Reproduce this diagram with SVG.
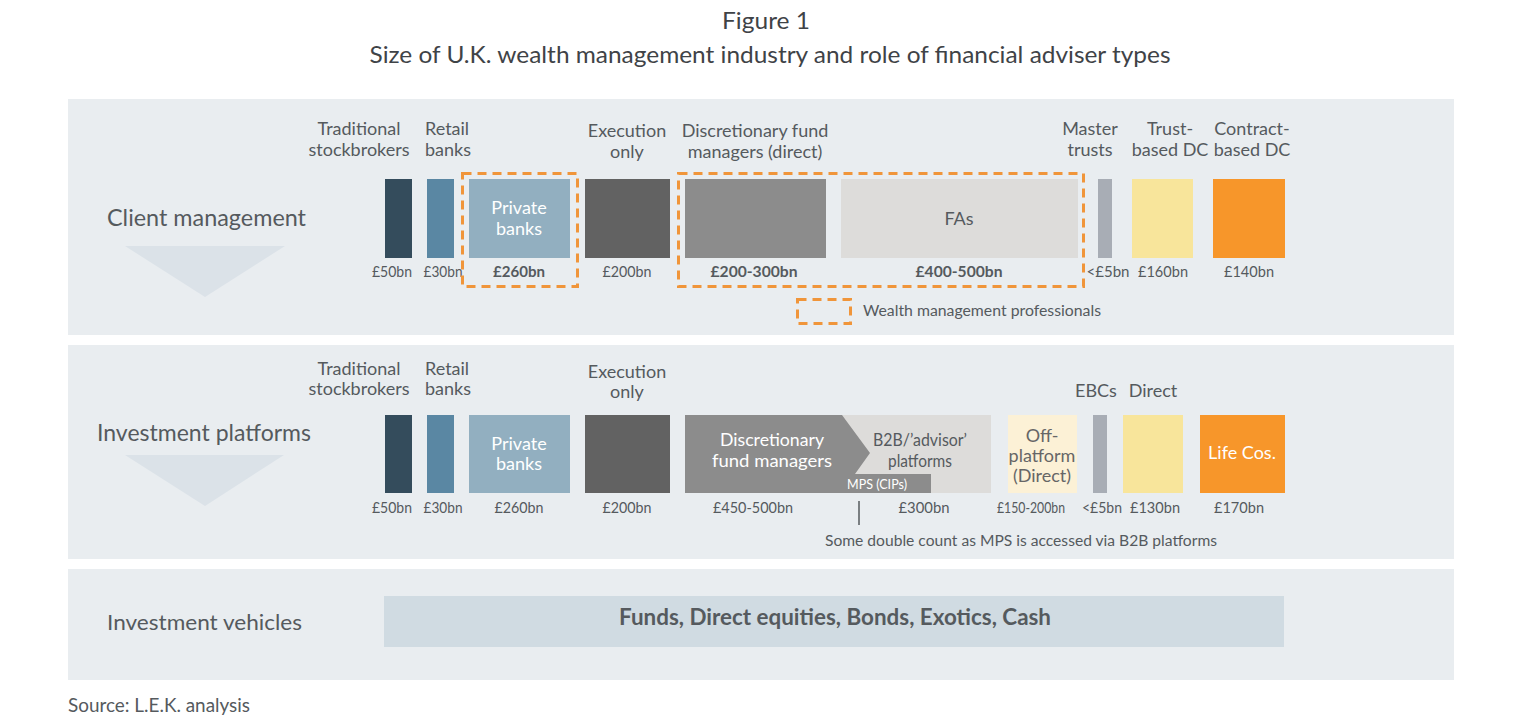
<svg xmlns="http://www.w3.org/2000/svg" width="1514" height="724" viewBox="0 0 1514 724">
<style>
text{font-family:Lato,"Open Sans","Liberation Sans",sans-serif;fill:#555a5e}
.t{font-size:24px;fill:#3f4347}
.lab{font-size:18px;text-anchor:middle}
.labl{font-size:18px}
.val{font-size:16px;text-anchor:middle}
.b{font-weight:bold}
.w{fill:#ffffff}
.sec{font-size:23.5px}
.panel{fill:#e9edf0}
.tri{fill:#dbe2e8}
.dash{fill:none;stroke:#f0953a;stroke-width:3;stroke-dasharray:9,6}
</style>
<rect width="1514" height="724" fill="#ffffff"/>
<text class="t" x="766" y="29" text-anchor="middle" textLength="88" lengthAdjust="spacingAndGlyphs">Figure 1</text>
<text class="t" x="770" y="63" text-anchor="middle" textLength="801" lengthAdjust="spacingAndGlyphs">Size of U.K. wealth management industry and role of financial adviser types</text>

<g id="panel-client">
<rect class="panel" x="68" y="99" width="1386" height="236"/>
<text class="sec" x="107" y="226" textLength="199" lengthAdjust="spacingAndGlyphs">Client management</text>
<polygon class="tri" points="125,246 285,246 205,297"/>
</g>
<g id="panel-platforms">
<rect class="panel" x="68" y="345" width="1386" height="214"/>
<text class="sec" x="97" y="441" textLength="214" lengthAdjust="spacingAndGlyphs">Investment platforms</text>
<polygon class="tri" points="125,455 284,455 205,506"/>
</g>
<g id="panel-vehicles">
<rect class="panel" x="68" y="569" width="1386" height="111"/>
<text x="107" y="630" style="font-size:22px" textLength="195" lengthAdjust="spacingAndGlyphs">Investment vehicles</text>
</g>

<!-- Row 1 -->
<g id="r1-trad">
<text class="lab" x="359" y="135">Traditional</text><text class="lab" x="359" y="156">stockbrokers</text>
<rect x="385" y="179" width="27" height="79" fill="#344c5c"/>
<text class="val" x="392" y="277" textLength="40" lengthAdjust="spacingAndGlyphs">£50bn</text>
</g>
<g id="r1-retail">
<text class="labl" x="425" y="135">Retail</text><text class="labl" x="425" y="156">banks</text>
<rect x="427" y="179" width="27" height="79" fill="#5a87a3"/>
<text class="val" x="443" y="277" textLength="39" lengthAdjust="spacingAndGlyphs">£30bn</text>
</g>
<g id="r1-private">
<rect x="469" y="179" width="101" height="79" fill="#92afc0"/>
<text class="lab w" x="519" y="214">Private</text><text class="lab w" x="519" y="235">banks</text>
<text class="val b" x="519" y="277" textLength="52" lengthAdjust="spacingAndGlyphs">£260bn</text>
<rect class="dash" x="462.5" y="173.5" width="115" height="113"/>
</g>
<g id="r1-exec">
<text class="lab" x="627" y="137">Execution</text><text class="lab" x="627" y="158">only</text>
<rect x="585" y="179" width="85" height="79" fill="#626262"/>
<text class="val" x="627" y="277" textLength="49" lengthAdjust="spacingAndGlyphs">£200bn</text>
</g>
<g id="r1-dfm">
<text class="lab" x="755" y="137">Discretionary fund</text><text class="lab" x="755" y="158">managers (direct)</text>
<rect x="685" y="179" width="141" height="79" fill="#8c8c8c"/>
<text class="val b" x="754" y="277" textLength="87" lengthAdjust="spacingAndGlyphs">£200-300bn</text>
</g>
<g id="r1-fas">
<rect x="841" y="179" width="237" height="79" fill="#dddcda"/>
<text class="lab" x="959" y="225">FAs</text>
<text class="val b" x="959" y="277" textLength="87" lengthAdjust="spacingAndGlyphs">£400-500bn</text>
</g>
<rect class="dash" x="678.5" y="173.5" width="405" height="113"/>
<g id="r1-master">
<text class="lab" x="1090" y="135">Master</text><text class="lab" x="1090" y="156">trusts</text>
<rect x="1098" y="179" width="14" height="79" fill="#a8adb5"/>
<text class="val" x="1108" y="277" textLength="43" lengthAdjust="spacingAndGlyphs">&lt;£5bn</text>
</g>
<g id="r1-trustdc">
<text class="lab" x="1170" y="135">Trust-</text><text class="lab" x="1170" y="156">based DC</text>
<rect x="1132" y="179" width="61" height="79" fill="#f8e59b"/>
<text class="val" x="1163" y="277" textLength="50" lengthAdjust="spacingAndGlyphs">£160bn</text>
</g>
<g id="r1-contractdc">
<text class="lab" x="1252" y="135">Contract-</text><text class="lab" x="1252" y="156">based DC</text>
<rect x="1213" y="179" width="72" height="79" fill="#f7962a"/>
<text class="val" x="1249" y="277" textLength="50" lengthAdjust="spacingAndGlyphs">£140bn</text>
</g>
<g id="legend">
<rect class="dash" x="797.5" y="299.5" width="53" height="24"/>
<text x="863" y="316" style="font-size:15.5px" textLength="238" lengthAdjust="spacingAndGlyphs">Wealth management professionals</text>
</g>

<!-- Row 2 -->
<g id="r2-trad">
<text class="lab" x="359" y="375">Traditional</text><text class="lab" x="359" y="395">stockbrokers</text>
<rect x="385" y="415" width="27" height="78" fill="#344c5c"/>
<text class="val" x="392" y="513" textLength="40" lengthAdjust="spacingAndGlyphs">£50bn</text>
</g>
<g id="r2-retail">
<text class="labl" x="425" y="375">Retail</text><text class="labl" x="425" y="395">banks</text>
<rect x="427" y="415" width="27" height="78" fill="#5a87a3"/>
<text class="val" x="443" y="513" textLength="39" lengthAdjust="spacingAndGlyphs">£30bn</text>
</g>
<g id="r2-private">
<rect x="469" y="415" width="101" height="78" fill="#92afc0"/>
<text class="lab w" x="519" y="450">Private</text><text class="lab w" x="519" y="470">banks</text>
<text class="val" x="519" y="513" textLength="49" lengthAdjust="spacingAndGlyphs">£260bn</text>
</g>
<g id="r2-exec">
<text class="lab" x="627" y="378">Execution</text><text class="lab" x="627" y="398">only</text>
<rect x="585" y="415" width="85" height="78" fill="#626262"/>
<text class="val" x="627" y="513" textLength="49" lengthAdjust="spacingAndGlyphs">£200bn</text>
</g>
<g id="r2-b2b">
<rect x="842" y="415" width="149" height="78" fill="#dddcda"/>
<text class="val" x="924" y="513" textLength="51" lengthAdjust="spacingAndGlyphs">£300bn</text>
</g>
<g id="r2-dfm">
<polygon points="685,415 842,415 870,453 855,474 931,474 931,493 685,493" fill="#8c8c8c"/>
<text class="lab w" x="772" y="446" textLength="104" lengthAdjust="spacingAndGlyphs">Discretionary</text><text class="lab w" x="772" y="467" textLength="120" lengthAdjust="spacingAndGlyphs">fund managers</text>
<text x="877" y="489" text-anchor="middle" class="w" style="font-size:13.5px" textLength="60" lengthAdjust="spacingAndGlyphs">MPS (CIPs)</text>
<text class="val" x="753" y="513" textLength="80" lengthAdjust="spacingAndGlyphs">£450-500bn</text>
</g>
<g id="r2-b2b-label">
<text class="lab" x="920" y="446" textLength="94" lengthAdjust="spacingAndGlyphs">B2B/’advisor’</text><text class="lab" x="920" y="467" textLength="64" lengthAdjust="spacingAndGlyphs">platforms</text>
</g>
<g id="r2-offplatform">
<rect x="1008" y="415" width="69" height="78" fill="#fcf1d6"/>
<text class="lab" x="1042" y="442" style="fill:#666">Off-</text><text class="lab" x="1042" y="462" style="fill:#666">platform</text><text class="lab" x="1042" y="482" style="fill:#666">(Direct)</text>
<text class="val" x="1031" y="513" style="font-size:15px" textLength="68" lengthAdjust="spacingAndGlyphs">£150-200bn</text>
</g>
<g id="r2-ebcs">
<text class="lab" x="1096" y="397">EBCs</text>
<rect x="1093" y="415" width="14" height="78" fill="#a8adb5"/>
<text class="val" x="1102" y="513" style="font-size:15px" textLength="40" lengthAdjust="spacingAndGlyphs">&lt;£5bn</text>
</g>
<g id="r2-direct">
<text class="lab" x="1153" y="397">Direct</text>
<rect x="1123" y="415" width="60" height="78" fill="#f8e59b"/>
<text class="val" x="1155" y="513" textLength="50" lengthAdjust="spacingAndGlyphs">£130bn</text>
</g>
<g id="r2-life">
<rect x="1200" y="415" width="85" height="78" fill="#f7962a"/>
<text class="lab w" x="1242" y="459">Life Cos.</text>
<text class="val" x="1239" y="513" textLength="50" lengthAdjust="spacingAndGlyphs">£170bn</text>
</g>
<g id="connectors">
<line x1="859" y1="501" x2="859" y2="525" stroke="#555a5e" stroke-width="1.5"/>
</g>
<text x="825" y="546" style="font-size:15.5px" textLength="392" lengthAdjust="spacingAndGlyphs">Some double count as MPS is accessed via B2B platforms</text>

<!-- Row 3 -->
<g id="r3-vehicles">
<rect x="384" y="596" width="900" height="51" fill="#d0dbe2"/>
<text x="835" y="625" text-anchor="middle" class="b" style="font-size:22px" textLength="432" lengthAdjust="spacingAndGlyphs">Funds, Direct equities, Bonds, Exotics, Cash</text>
</g>
<text x="68" y="712" style="font-size:18.5px" textLength="182" lengthAdjust="spacingAndGlyphs">Source: L.E.K. analysis</text>
</svg>
